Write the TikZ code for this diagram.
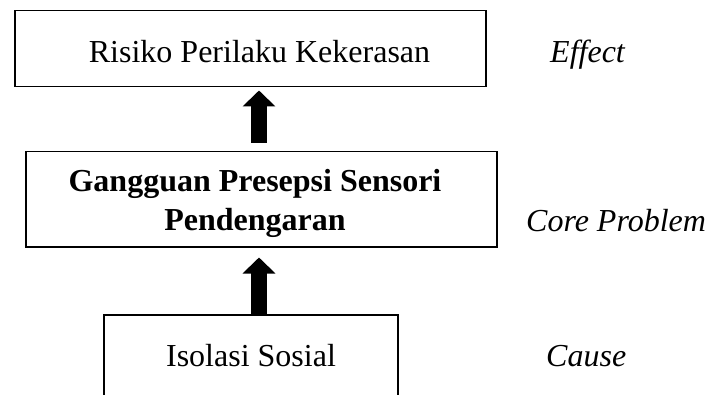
\documentclass[tikz,border=0pt]{standalone}
\usepackage{fontspec}
\setmainfont{Liberation Serif}
\usetikzlibrary{arrows.meta}
\begin{document}
\begin{tikzpicture}[x=1pt,y=-1pt,
  boxnode/.style={draw,line width=1.5pt,inner sep=0pt,anchor=north west},
  txt/.style={inner sep=0pt,font=\fontsize{32}{38}\selectfont},
  bigarrow/.style={line width=16pt,-{Triangle[width=32pt,length=16pt]}}]
\clip (0,0) rectangle (719,395);
\fill[white] (0,0) rectangle (719,395);
% boxes
\node[boxnode,minimum width=471pt,minimum height=76pt] (b1) at (14,10) {};
\node[boxnode,minimum width=471pt,minimum height=95pt] (b2) at (25,151) {};
\node[boxnode,minimum width=294pt,minimum height=120pt] (b3) at (103,314) {};
% texts
\node[txt,anchor=base] (t1) at (259.5,63) {Risiko Perilaku Kekerasan};
\node[txt,anchor=base] (t2a) at (255,192) {\bfseries Gangguan Presepsi Sensori};
\node[txt,anchor=base] (t2b) at (255,230) {\bfseries Pendengaran};
\node[txt,anchor=base] (t3) at (251,366) {Isolasi Sosial};
\node[txt,anchor=base west] (l1) at (550,63) {\itshape Effect};
\node[txt,anchor=base west] (l2) at (526,232) {\itshape Core Problem};
\node[txt,anchor=base west] (l3) at (546,366) {\itshape Cause};
% arrows
\draw[bigarrow,shorten <=8pt,shorten >=3pt] (b2.north -| 259,0) -- (b1.south -| 259,0);
\draw[bigarrow,shorten >=10pt] (b3.north -| 259,0) -- (b2.south -| 259,0);
\end{tikzpicture}
\end{document}
